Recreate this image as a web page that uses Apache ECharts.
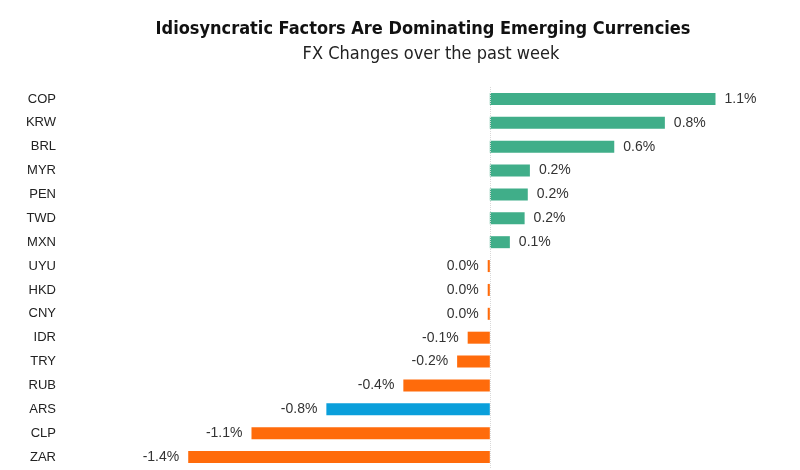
<!DOCTYPE html>
<html>
<head>
<meta charset="utf-8">
<script src="https://cdn.jsdelivr.net/npm/echarts@6/dist/echarts.min.js"></script>
<style>
html,body{margin:0;padding:0;background:#fff;}
#chart{width:800px;height:470px;}
</style>
</head>
<body>
<div id="chart"></div>
<script>
const categories = ['COP','KRW','BRL','MYR','PEN','TWD','MXN','UYU','HKD','CNY','IDR','TRY','RUB','ARS','CLP','ZAR'];
const values = [1.07, 0.83, 0.59, 0.19, 0.18, 0.165, 0.095, -0.01, -0.01, -0.01, -0.105, -0.155, -0.41, -0.775, -1.13, -1.43];
const highlight = 'ARS';
const titleText = 'Idiosyncratic Factors Are Dominating Emerging Currencies';
const subtitleText = 'FX Changes over the past week';

const GREEN = '#40AE89', ORANGE = '#FF6B0B', BLUE = '#0A9FDB';

function fmt(v){
  let s = v.toFixed(1);
  if (s === '-0.0') s = '0.0';
  return s + '%';
}

const data = values.map((v, i) => ({
  value: v,
  itemStyle: { color: categories[i] === highlight ? BLUE : (v >= 0 ? GREEN : ORANGE) },
  label: { position: v >= 0 ? 'right' : 'left' }
}));

const chart = echarts.init(document.getElementById('chart'));
chart.setOption({
  backgroundColor: '#fff',
  animation: false,
  title: [
    { text: titleText, left: 418, top: 15, textAlign: 'center',
      textStyle: { fontFamily: 'Liberation Sans Narrow, DejaVu Sans Condensed, Arial Narrow, sans-serif', fontWeight: 'bold', fontSize: 18, color: '#111' } },
    { text: subtitleText, left: 426, top: 40, textAlign: 'center',
      textStyle: { fontFamily: 'Liberation Sans Narrow, DejaVu Sans Condensed, Arial Narrow, sans-serif', fontWeight: 'normal', fontSize: 18, color: '#222' } }
  ],
  grid: { left: 68, right: 36, top: 87, bottom: 1, containLabel: false },
  xAxis: {
    type: 'value', min: -2, max: 1.3,
    show: false, splitLine: { show: false }
  },
  yAxis: {
    type: 'category', data: categories, inverse: true,
    axisLine: { show: false, onZero: false },
    axisTick: { show: false },
    axisLabel: { margin: 12, fontFamily: 'Liberation Sans, Arial, sans-serif', fontSize: 13, color: '#222' }
  },
  series: [{
    type: 'bar', data: data, barWidth: 12,
    label: {
      show: true, distance: 9,
      fontFamily: 'Liberation Sans, Arial, sans-serif', fontSize: 14, color: '#333',
      formatter: p => fmt(p.value)
    },
    markLine: {
      silent: true, symbol: 'none', label: { show: false },
      lineStyle: { color: '#d8d8d8', type: 'dotted', width: 1 },
      data: [{ xAxis: 0 }]
    }
  }]
});
</script>
</body>
</html>
